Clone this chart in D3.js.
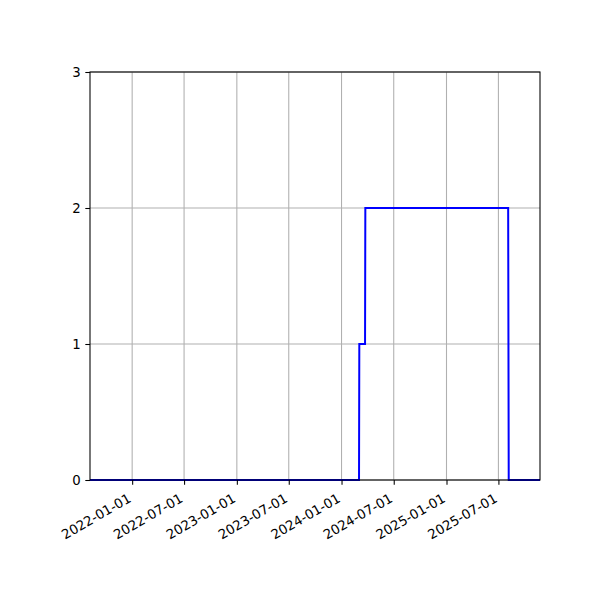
<!DOCTYPE html>
<html>
<head>
<meta charset="utf-8">
<script src="https://cdn.jsdelivr.net/npm/d3@7"></script>
<style>
  body { margin: 0; background: #fff; }
  svg { display: block; }
</style>
</head>
<body>
<svg></svg>
<script>
// step series
let dates = ['2021-08-07', '2024-03-02', '2024-03-03', '2024-03-23', '2024-03-24', '2025-08-04', '2025-08-06', '2025-11-23']
let values = [0, 0, 1, 1, 2, 2, 0, 0]
let xTicks = ['2022-01-01', '2022-07-01', '2023-01-01', '2023-07-01', '2024-01-01', '2024-07-01', '2025-01-01', '2025-07-01']
let yTicks = [0, 1, 2, 3]

let width = 600
let height = 600
let padLeft = 90, padRight = 540, padTop = 72, padBottom = 480
let font = '"DejaVu Sans", sans-serif'

let parse = d3.utcParse('%Y-%m-%d')
let fmt = d3.utcFormat('%Y-%m-%d')

let svg = d3.select('svg')
svg.attr('width', width).attr('height', height)

let points = dates.map((d, i) => ({ date: parse(d), value: values[i] }))

let xScale = d3.scaleUtc()
               .domain([parse(dates[0]), parse(dates[dates.length - 1])])
               .range([padLeft, padRight])

let yScale = d3.scaleLinear()
               .domain([0, 3])
               .range([padBottom, padTop])

// grid
let grid = svg.append('g')
grid.selectAll('line.vx')
    .data(xTicks.map(parse))
    .enter()
    .append('line')
    .attr('x1', d => xScale(d)).attr('x2', d => xScale(d))
    .attr('y1', padTop).attr('y2', padBottom)
    .attr('stroke', '#b0b0b0').attr('stroke-width', 1.07)
grid.selectAll('line.hy')
    .data(yTicks)
    .enter()
    .append('line')
    .attr('x1', padLeft).attr('x2', padRight)
    .attr('y1', d => yScale(d)).attr('y2', d => yScale(d))
    .attr('stroke', '#b0b0b0').attr('stroke-width', 1.07)

// line
let line = d3.line()
             .x(d => xScale(d.date))
             .y(d => yScale(d.value))

svg.append('path')
   .datum(points)
   .attr('d', line)
   .attr('fill', 'none')
   .attr('stroke', '#0000ff')
   .attr('stroke-width', 2)

// frame
svg.append('rect')
   .attr('x', padLeft).attr('y', padTop)
   .attr('width', padRight - padLeft).attr('height', padBottom - padTop)
   .attr('fill', 'none').attr('stroke', '#000').attr('stroke-width', 1.07)

// axes
let xAxis = d3.axisBottom(xScale)
              .tickValues(xTicks.map(parse))
              .tickFormat(fmt)
              .tickSizeInner(4.7).tickSizeOuter(0).tickPadding(4.7)
let yAxis = d3.axisLeft(yScale)
              .tickValues(yTicks)
              .tickFormat(d3.format('d'))
              .tickSizeInner(4.7).tickSizeOuter(0).tickPadding(4.7)

let gx = svg.append('g')
   .attr('transform', 'translate(0,' + padBottom + ')')
   .call(xAxis)
   .attr('font-family', font)
   .attr('font-size', 13.3)
gx.select('.domain').remove()
gx.selectAll('line').attr('stroke', '#000').attr('stroke-width', 1.07)
gx.selectAll('text')
  .attr('fill', '#000')
  .attr('text-anchor', 'end')
  .attr('dy', '0.35em')
  .attr('y', 0)
  .attr('transform', 'translate(-3,17) rotate(-30)')

let gy = svg.append('g')
   .attr('transform', 'translate(' + padLeft + ',0)')
   .call(yAxis)
   .attr('font-family', font)
   .attr('font-size', 13.3)
gy.select('.domain').remove()
gy.selectAll('line').attr('stroke', '#000').attr('stroke-width', 1.07)
gy.selectAll('text').attr('fill', '#000')
</script>
</body>
</html>
